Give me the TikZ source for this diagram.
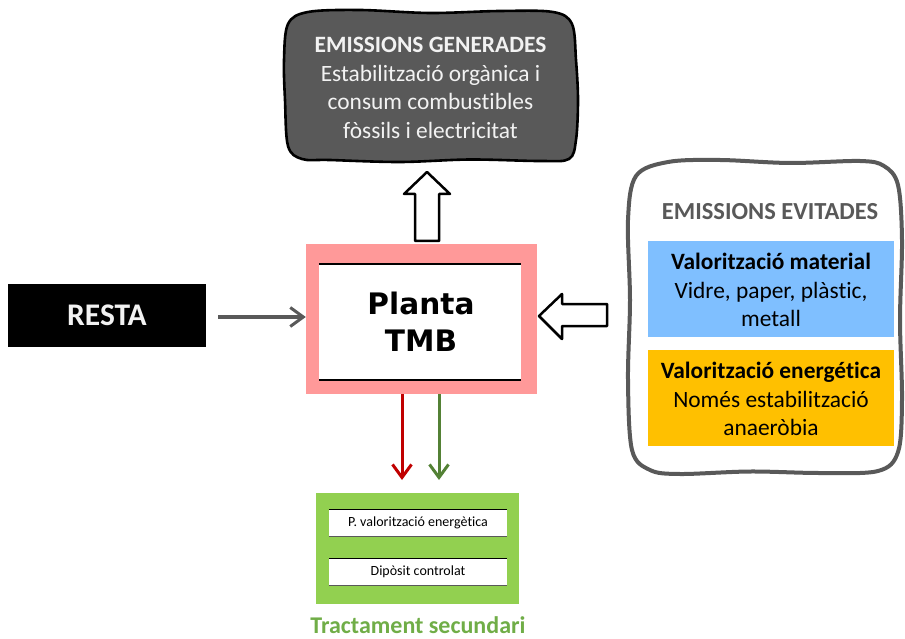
\documentclass[tikz,border=0pt]{standalone}
\usepackage{fontspec}
\setmainfont{Carlito}[Ligatures=NoCommon]
\newfontfamily\dejavu{DejaVu Sans}
\usetikzlibrary{arrows.meta}
\definecolor{dgray}{HTML}{595959}
\definecolor{pinkf}{HTML}{FF9999}
\definecolor{bluef}{HTML}{7FBFFF}
\definecolor{orangef}{HTML}{FFC000}
\definecolor{greenf}{HTML}{92D050}
\definecolor{greent}{HTML}{70AD47}
\definecolor{redarr}{HTML}{C00000}
\definecolor{greenarr}{HTML}{538135}
\definecolor{offwhite}{HTML}{F2F2F2}
\tikzset{
  chev/.style={-{Straight Barb[length=13pt,width=19pt,line width=3pt]}},
  txt/.style={inner sep=0pt,align=center,font=\fontsize{23.4}{28.5}\selectfont},
  innerbox/.style={fill=white,minimum width=178pt,minimum height=27pt,inner sep=0pt,font=\fontsize{14}{16}\selectfont},
  blockarrow/.style={line width=2.5pt,fill=white,line join=round},
}
\begin{document}
\begin{tikzpicture}[x=1pt,y=-1pt]
\useasboundingbox (0,0) rectangle (905,639);

% top box: emissions generades
\node[minimum width=293pt,minimum height=152pt,inner sep=0pt] (gen) at (430.5,86) {};
\draw[line width=2.6pt,fill=dgray,line join=round] plot[smooth cycle,tension=0.55] coordinates {
 (308,12) (360,10) (430,13) (500,11) (553,12) (572,24) (576,60) (578,100) (576,140) (569,159)
 (540,161) (470,159.5) (400,162) (330,160) (302,159) (288,146) (285,100) (284,60) (288,24)};
\node[txt,text=offwhite] (gentxt) at (430.5,88) {\textbf{EMISSIONS GENERADES}\\Estabilització orgànica i\\consum combustibles\\fòssils i electricitat};

% planta TMB
\node[fill=pinkf,minimum width=231pt,minimum height=150pt,inner sep=0pt] (tmb) at (421.5,319) {};
\node[fill=white,minimum width=202pt,minimum height=116pt,inner sep=0pt] (tmbin) at (420,322) {};
\draw[line width=2pt] (tmbin.north west) -- (tmbin.north east);
\draw[line width=2pt] (tmbin.south west) -- (tmbin.south east);
\node[inner sep=0pt,align=center,font=\dejavu\bfseries\fontsize{29.6}{36.5}\selectfont] (tmbtxt) at (421,322) {Planta\\TMB};

% up block arrow
\draw[blockarrow] (415,241) -- (415,194) -- (404,194) -- (427,172) -- (450,194) -- (439,194) -- (439,241) -- cycle;

% RESTA
\node[fill=black,minimum width=198pt,minimum height=63pt,inner sep=0pt,text=offwhite,font=\bfseries\fontsize{31.5}{34}\selectfont] (resta) at (107,315.5) {RESTA};
\coordinate (restaout) at (218,317);
\draw[chev,draw=dgray,line width=3.5pt] (restaout) -- (tmb.west |- restaout);

% right box
\node[minimum width=274pt,minimum height=314pt,inner sep=0pt] (evit) at (765,317) {};
\draw[line width=4pt,draw=dgray,fill=white,line join=round] plot[smooth cycle,tension=0.55] coordinates {
 (668,162) (720,160) (790,163) (860,161) (884,166) (898,185) (902,240) (900,320) (902,400) (898,452)
 (878,471) (820,473) (750,471.5) (680,474) (650,470) (632,450) (628,380) (630,300) (628,220) (636,176)};
\node[font=\bfseries\fontsize{24.5}{28}\selectfont,text=dgray,inner sep=0pt] (evittitle) at (770,212) {EMISSIONS EVITADES};
\node[fill=bluef,minimum width=246pt,minimum height=96pt,inner sep=0pt] (mat) at (771,289) {};
\node[txt] (mattxt) at (771,290) {\textbf{Valorització material}\\Vidre, paper, plàstic,\\metall};
\node[fill=orangef,minimum width=246pt,minimum height=96pt,inner sep=0pt] (ener) at (771,398) {};
\node[txt] (enertxt) at (771,399) {\textbf{Valorització energética}\\Només estabilització\\anaeròbia};

% left block arrow
\draw[blockarrow] (607,304) -- (562,304) -- (562,294) -- (539,316) -- (562,339) -- (562,326) -- (607,326) -- cycle;

% secondary treatment
\node[fill=greenf,minimum width=203pt,minimum height=111pt,inner sep=0pt] (sec) at (417.5,548.5) {};
\node[innerbox] (pval) at (418,523) {P. valorització energètica};
\draw[line width=1.5pt] (pval.north west) -- (pval.north east);
\draw[line width=0.8pt,draw=dgray] (pval.south west) -- (pval.south east);
\node[innerbox] (dip) at (418,572) {Dipòsit controlat};
\draw[line width=1.5pt] (dip.north west) -- (dip.north east);
\draw[line width=0.8pt,draw=dgray] (dip.south west) -- (dip.south east);
\node[font=\bfseries\fontsize{24}{28}\selectfont,text=greent,inner sep=0pt] (sectitle) at (418,625) {Tractament secundari};

% down arrows
\coordinate (redend) at (402,480);
\coordinate (greenend) at (439,480);
\draw[chev,draw=redarr,line width=3pt] (tmb.south -| redend) -- (redend);
\draw[chev,draw=greenarr,line width=3pt] (tmb.south -| greenend) -- (greenend);
\end{tikzpicture}
\end{document}
